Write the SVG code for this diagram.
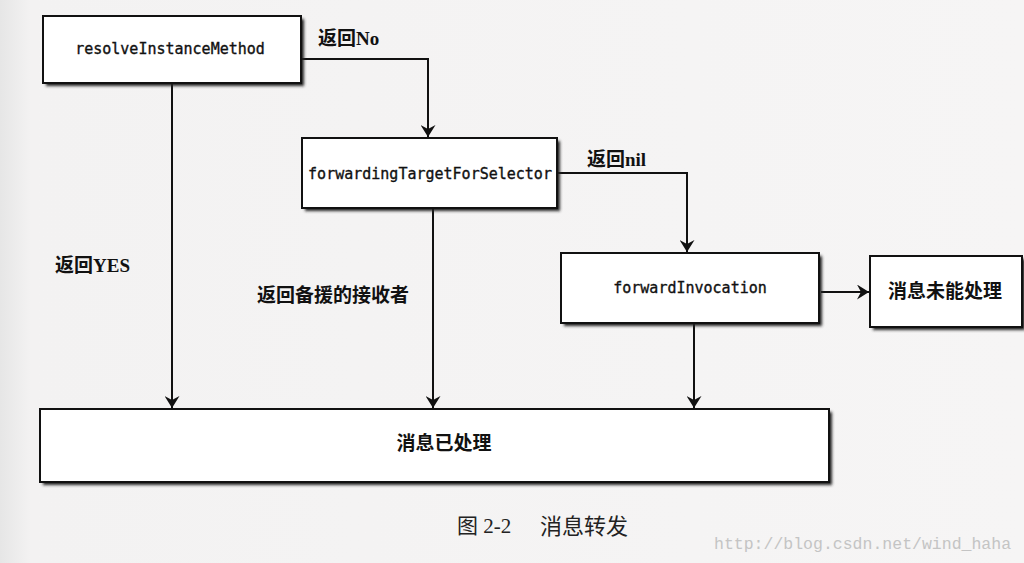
<svg xmlns="http://www.w3.org/2000/svg" width="1024" height="563" viewBox="0 0 1024 563">
<style>
.box{fill:#fff;stroke:#111;stroke-width:2}
.sh{fill:#222;filter:url(#blur)}
.mono{font-family:"DejaVu Sans Mono","Liberation Mono",monospace;font-size:15px;fill:#111;stroke:#111;stroke-width:0.35}
.lbl{font-family:"Liberation Serif","Noto Sans CJK SC",serif;font-weight:bold;fill:#111}
.cn{font-family:"Noto Sans CJK SC",sans-serif;font-weight:bold;fill:#111}
.edge{fill:none;stroke:#111;stroke-width:2}
</style>
<defs>
<filter id="blur" x="-10%" y="-10%" width="120%" height="130%"><feGaussianBlur stdDeviation="1.5"/></filter>
<marker id="arr" viewBox="0 0 12 15" refX="12" refY="7.5" markerWidth="12" markerHeight="15" markerUnits="userSpaceOnUse" orient="auto">
<path d="M0,0 L12,7.5 L0,15 L4,7.5 Z" fill="#111"/>
</marker>
<linearGradient id="bg" x1="0" y1="0" x2="1" y2="0">
<stop offset="0" stop-color="#e6e6e6"/><stop offset="0.03" stop-color="#f3f2f2"/><stop offset="1" stop-color="#f6f5f5"/>
</linearGradient>
</defs>
<rect width="1024" height="563" fill="url(#bg)"/>

<g id="connectors">
<path class="edge" d="M302,59 H428 V137" marker-end="url(#arr)"/>
<path class="edge" d="M557,173 H687 V252" marker-end="url(#arr)"/>
<path class="edge" d="M821,292 H869" marker-end="url(#arr)"/>
<path class="edge" d="M172,84 V408" marker-end="url(#arr)"/>
<path class="edge" d="M433,209 V408" marker-end="url(#arr)"/>
<path class="edge" d="M694,324 V408" marker-end="url(#arr)"/>
<text class="lbl" x="318" y="45" font-size="19">返回No</text>
<text class="lbl" x="587" y="166" font-size="19">返回nil</text>
<text class="lbl" x="55" y="272" font-size="19">返回YES</text>
<text class="cn" x="257" y="302" font-size="19">返回备援的接收者</text>
</g>

<g id="resolveInstanceMethod">
<rect class="sh" x="46" y="19" width="258" height="67"/>
<rect class="box" x="43" y="16" width="258" height="67"/>
<text class="mono" x="170" y="54" text-anchor="middle">resolveInstanceMethod</text>
</g>

<g id="forwardingTargetForSelector">
<rect class="sh" x="305" y="141" width="255" height="70"/>
<rect class="box" x="302" y="138" width="255" height="70"/>
<text class="mono" x="430" y="179" text-anchor="middle">forwardingTargetForSelector</text>
</g>

<g id="forwardInvocation">
<rect class="sh" x="564" y="256" width="258" height="70"/>
<rect class="box" x="561" y="253" width="258" height="70"/>
<text class="mono" x="690" y="293" text-anchor="middle">forwardInvocation</text>
</g>

<g id="unhandled">
<rect class="sh" x="873" y="259" width="152" height="71"/>
<rect class="box" x="870" y="256" width="152" height="71"/>
<text class="cn" x="945" y="298" font-size="19" text-anchor="middle">消息未能处理</text>
</g>

<g id="handled">
<rect class="sh" x="43" y="412" width="789" height="73"/>
<rect class="box" x="40" y="409" width="789" height="73"/>
<text class="cn" x="444" y="450" font-size="19" text-anchor="middle">消息已处理</text>
</g>

<text x="457" y="533" font-size="21" fill="#222" style="font-family:'Liberation Serif','Noto Sans CJK SC',serif">图 2-2</text>
<text x="540" y="534" font-size="22" fill="#222" style="font-family:'Noto Sans CJK SC',sans-serif">消息转发</text>
<text x="714" y="549" font-size="16.5" fill="#c4c4c4" style="font-family:'Liberation Mono',monospace">http://blog.csdn.net/wind_haha</text>
</svg>
